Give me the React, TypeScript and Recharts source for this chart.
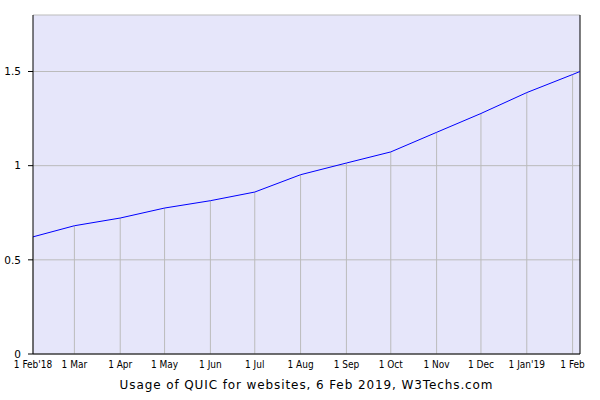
import React from "react";
import { LineChart, Line, XAxis, YAxis, CartesianGrid, ReferenceLine } from "recharts";

// days since 1 Feb 2018
const days = [0, 28, 59, 89, 120, 150, 181, 212, 242, 273, 303, 334, 365, 370];
const usage = [0.622, 0.681, 0.722, 0.775, 0.814, 0.86, 0.952, 1.014, 1.073, 1.177, 1.277, 1.388, 1.484, 1.5];
const monthTicks = [0, 28, 59, 89, 120, 150, 181, 212, 242, 273, 303, 334, 365];
const monthLabels = ["1 Feb'18", "1 Mar", "1 Apr", "1 May", "1 Jun", "1 Jul", "1 Aug", "1 Sep", "1 Oct", "1 Nov", "1 Dec", "1 Jan'19", "1 Feb"];
const yTicks = [0, 0.5, 1, 1.5];
const yLabels = ["0", "0.5", "1", "1.5"];
const title = "Usage of QUIC for websites, 6 Feb 2019, W3Techs.com";

const data = days.map((d, i) => ({ day: d, value: usage[i] }));

export default function App() {
  return (
    <div style={{ position: "absolute", left: 0, top: 0, width: 600, height: 400, background: "#fff" }}>
      <LineChart width={600} height={400} data={data} margin={{ top: 15, right: 20, left: 0, bottom: 0 }}>
        <CartesianGrid vertical={false} stroke="#bbbbbb" fill="#e6e6fa" />
        <XAxis
          dataKey="day"
          type="number"
          domain={[0, 370]}
          ticks={monthTicks}
          tickFormatter={(v: number) => monthLabels[monthTicks.indexOf(v)] ?? ""}
          interval={0}
          height={46}
          tickLine={false}
          tickSize={0}
          tickMargin={7}
          axisLine={{ stroke: "#000" }}
          tick={{ fill: "#000", fontSize: 10, fontFamily: "DejaVu Sans Condensed, DejaVu Sans" }}
        />
        <YAxis
          type="number"
          domain={[0, 1.8]}
          ticks={yTicks}
          tickFormatter={(v: number) => yLabels[yTicks.indexOf(v)] ?? String(v)}
          width={33}
          tickSize={5}
          tickMargin={7}
          axisLine={{ stroke: "#000" }}
          tickLine={{ stroke: "#000" }}
          tick={{ fill: "#000", fontSize: 10.5, fontFamily: "DejaVu Sans" }}
        />
        {days.slice(0, 13).map((d, i) => (
          <ReferenceLine
            key={d}
            segment={[{ x: d, y: 0 }, { x: d, y: usage[i] }]}
            stroke="#bbbbbb"
            ifOverflow="visible"
          />
        ))}
        <ReferenceLine x={370} stroke="#000" />
        <Line
          type="linear"
          dataKey="value"
          stroke="#0000ff"
          strokeWidth={1}
          dot={false}
          isAnimationActive={false}
        />
      </LineChart>
      <div
        style={{
          position: "absolute",
          left: 33,
          width: 547,
          top: 378,
          textAlign: "center",
          fontFamily: "DejaVu Sans",
          fontSize: 12,
          letterSpacing: 0.9,
          color: "#000",
          whiteSpace: "nowrap",
        }}
      >
        {title}
      </div>
    </div>
  );
}
